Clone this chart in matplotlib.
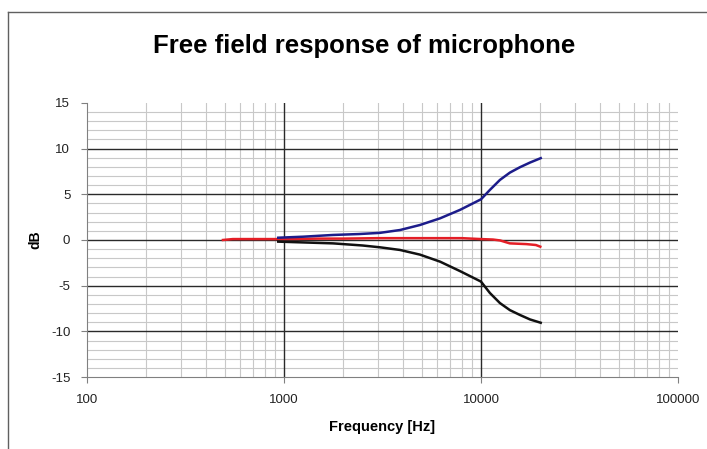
import numpy as np
import matplotlib
matplotlib.use('Agg')
import matplotlib.pyplot as plt
from matplotlib.ticker import LogLocator, MultipleLocator, FixedLocator, NullFormatter
from matplotlib.lines import Line2D

# values
freq_red = [490, 550, 700, 1000, 1500, 2000, 3000, 5000, 8000, 10000, 11500, 12500, 14000, 17000, 19000, 20000]
db_red = [0.0, 0.1, 0.1, 0.1, 0.15, 0.15, 0.2, 0.2, 0.2, 0.1, 0.05, -0.05, -0.37, -0.45, -0.55, -0.73]

freq_blue = [935, 1250, 1775, 2400, 3070, 3880, 4900, 6200, 7820, 10000, 11100, 12480, 14020, 15770, 17740, 20100]
db_blue = [0.25, 0.36, 0.55, 0.65, 0.78, 1.09, 1.64, 2.37, 3.29, 4.45, 5.48, 6.57, 7.37, 7.96, 8.47, 8.95]

freq_black = [935, 1775, 2500, 3070, 3880, 4900, 6200, 7820, 10000, 11100, 12480, 14020, 15770, 17740, 20100]
db_black = [-0.18, -0.37, -0.6, -0.8, -1.09, -1.6, -2.37, -3.4, -4.55, -5.8, -6.9, -7.67, -8.2, -8.69, -9.05]

plt.rcParams['font.family'] = ['Liberation Sans', 'DejaVu Sans']
plt.rcParams['axes.unicode_minus'] = False

fig = plt.figure(figsize=(7.07, 4.49), dpi=100)
ax = fig.add_axes([0.123, 0.160, 0.836, 0.611])

ax.plot(freq_red, db_red, color='#e41e26', lw=1.8, zorder=3)
ax.plot(freq_blue, db_blue, color='#1c1c8a', lw=1.8, zorder=4)
ax.plot(freq_black, db_black, color='#111111', lw=1.8, zorder=4)

ax.set_xscale('log')
ax.set_xlim(100, 100000)
ax.set_ylim(-15, 15)
ax.xaxis.set_major_locator(FixedLocator([100, 1000, 10000, 100000]))
ax.xaxis.set_major_formatter(plt.FuncFormatter(lambda v, p: '%d' % v))
ax.xaxis.set_minor_locator(LogLocator(base=10, subs=np.arange(2, 10)))
ax.xaxis.set_minor_formatter(NullFormatter())
ax.yaxis.set_major_locator(MultipleLocator(5))
ax.yaxis.set_minor_locator(MultipleLocator(1))

ax.grid(which='minor', color='#c8c8c8', lw=0.8)
ax.set_axisbelow(True)
# major grid drawn over the minor one
for v in [1000, 10000]:
    ax.axvline(v, color='#2a2a2a', lw=1.0, zorder=1.5)
for v in [-10, -5, 0, 5, 10]:
    ax.axhline(v, color='#2a2a2a', lw=1.0, zorder=1.5)

for s in ['top', 'right']:
    ax.spines[s].set_visible(False)
for s in ['left', 'bottom']:
    ax.spines[s].set_color('#808080')

ax.tick_params(which='major', direction='out', length=4, color='#808080',
               labelsize=9.5, labelcolor='#222222', pad=8)
ax.tick_params(which='minor', length=0)

ax.set_xlabel('Frequency [Hz]', fontsize=10.5, fontweight='bold', labelpad=10)
ax.set_ylabel('dB', fontsize=10, fontweight='bold')
ax.yaxis.set_label_coords(-0.075, 0.5)
fig.text(0.515, 0.897, 'Free field response of microphone', ha='center', va='center',
         fontsize=18.5, fontweight='bold')

# outer chart frame
fig.add_artist(Line2D([0.012, 1.0], [0.973, 0.973], color='#606060', lw=1))
fig.add_artist(Line2D([0.012, 0.012], [0.0, 0.973], color='#606060', lw=1))

fig.savefig('out.png', dpi=100)
